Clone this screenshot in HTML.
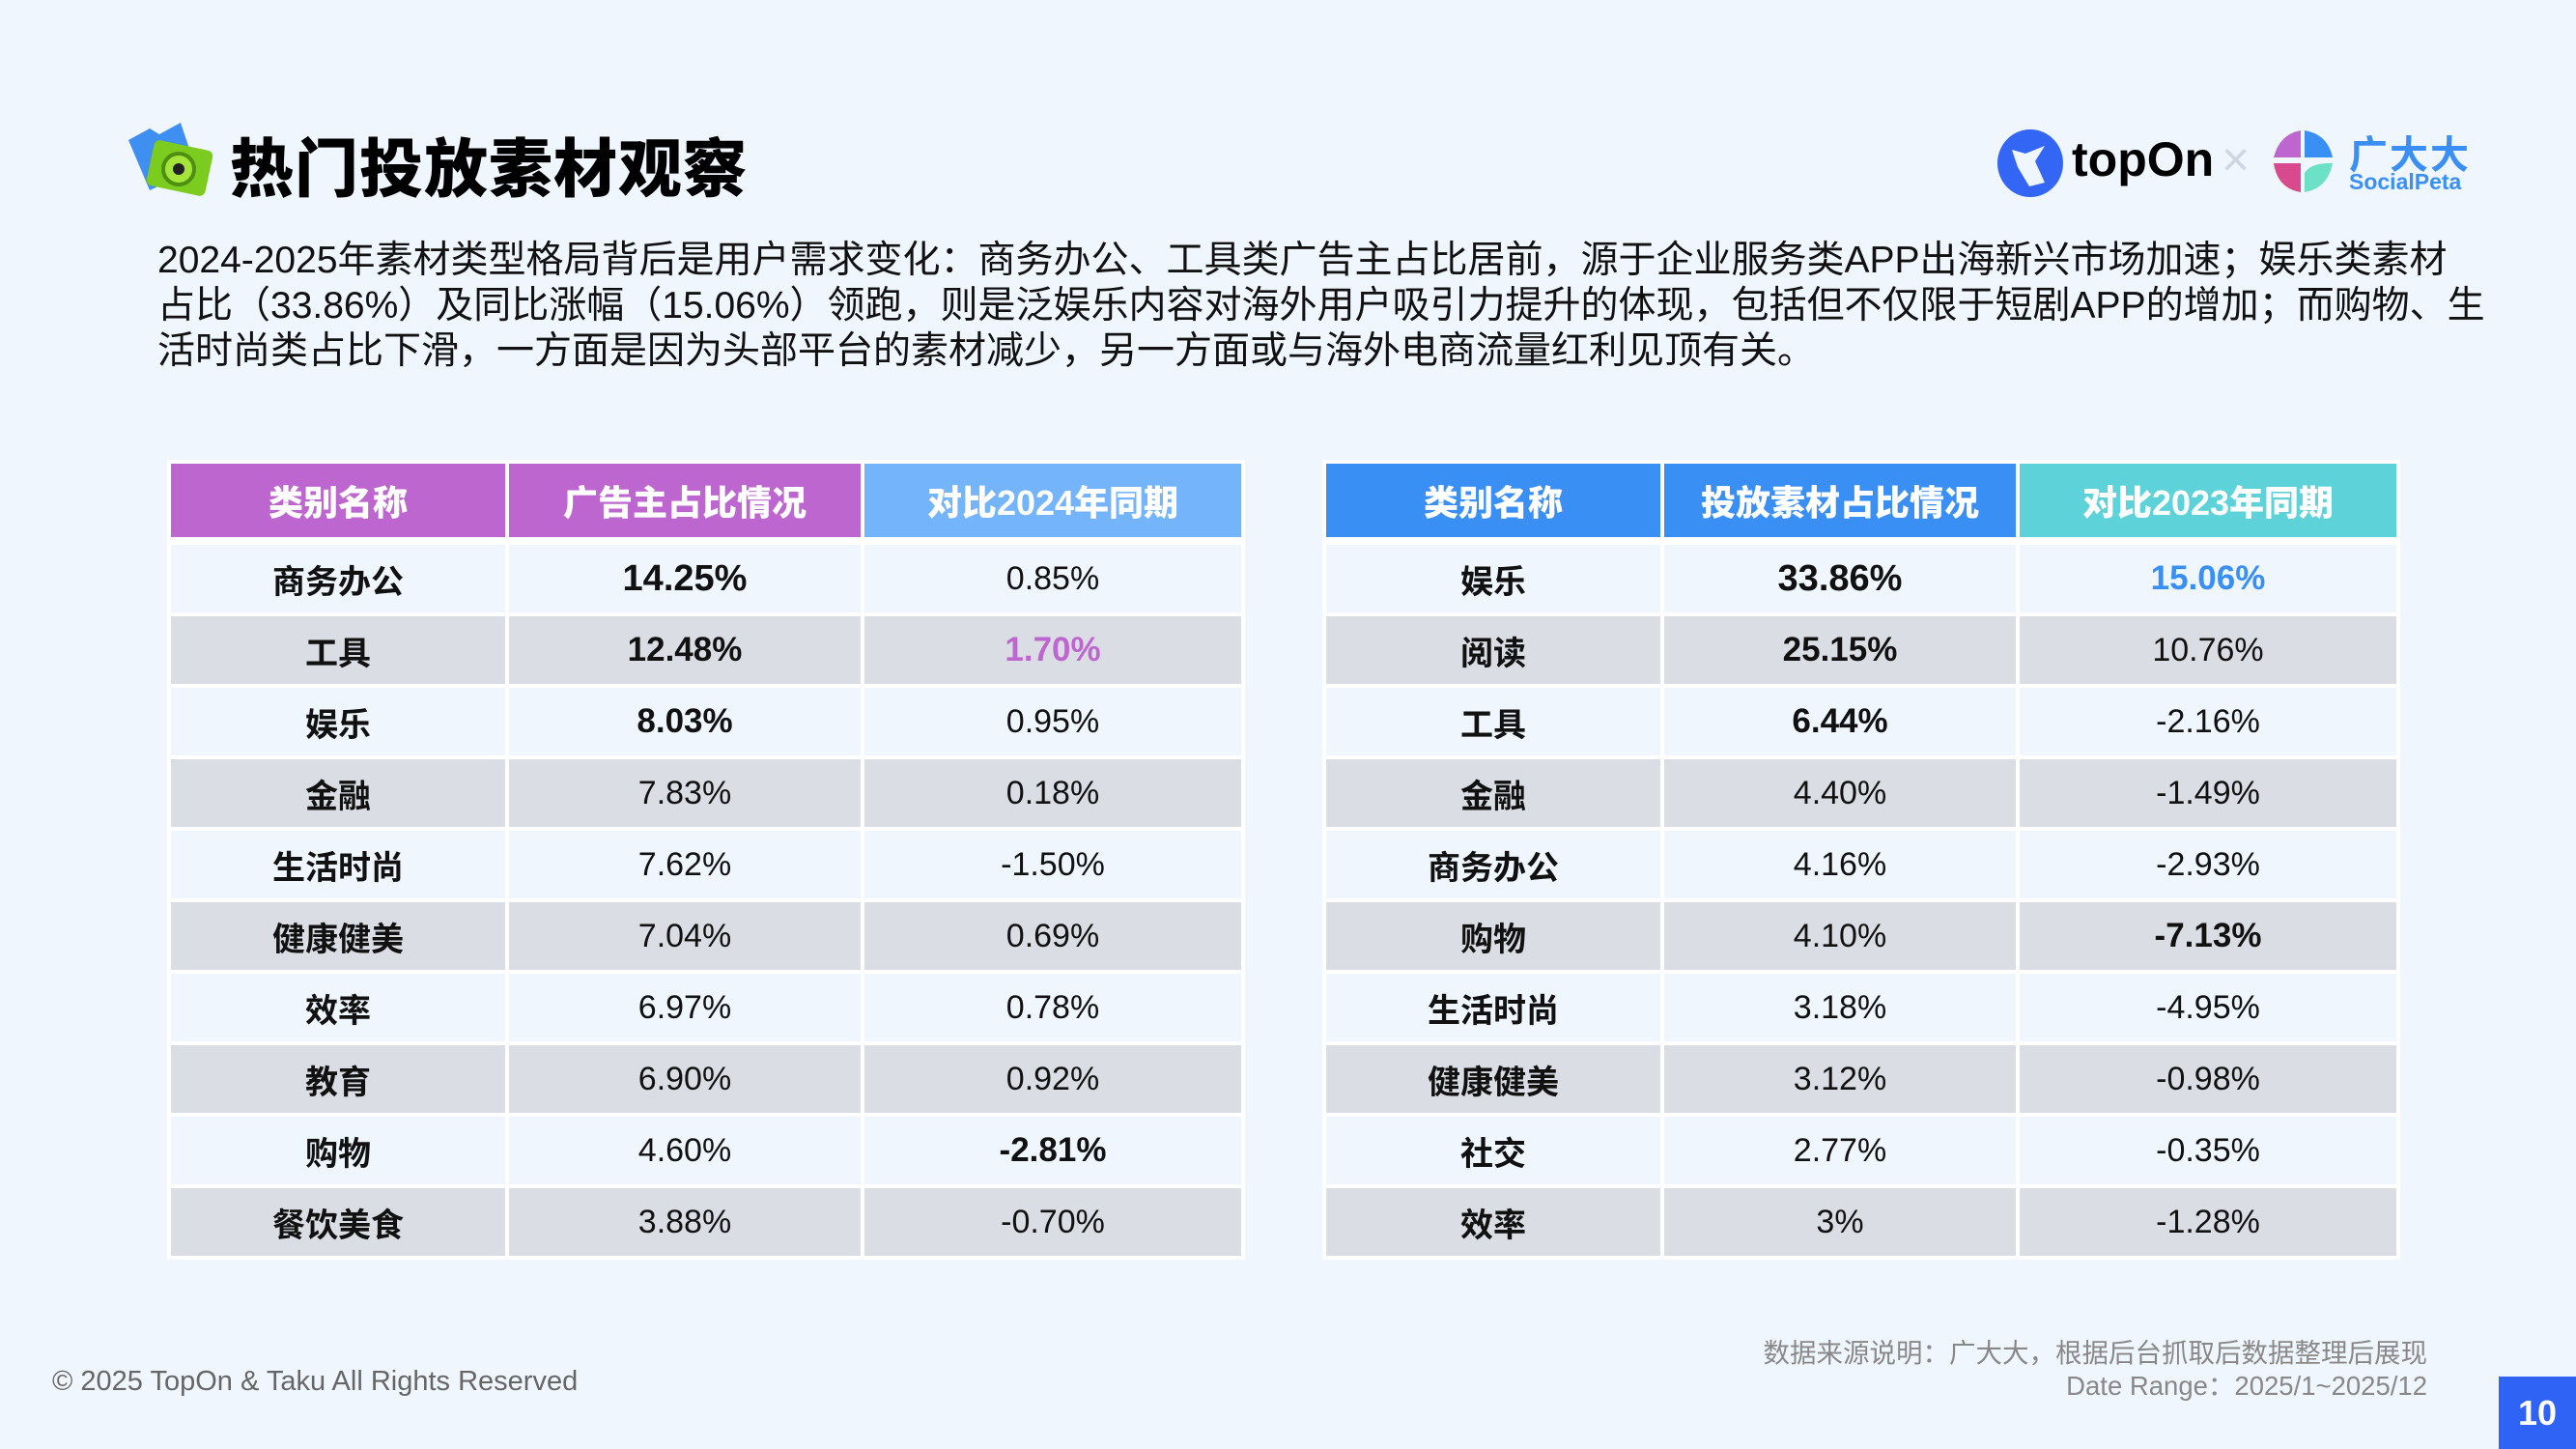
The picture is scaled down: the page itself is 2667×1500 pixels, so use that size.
<!DOCTYPE html>
<html><head><meta charset="utf-8"><style>
*{margin:0;padding:0;box-sizing:border-box}
body{width:2667px;height:1500px;background:#f0f6fe;position:relative;overflow:hidden;font-family:"Liberation Sans","Noto Sans CJK SC",sans-serif;color:#111}
.abs{position:absolute}
.title{left:238px;top:122px;font-size:66px;font-weight:900;letter-spacing:1px;color:#000}
.body{left:163px;top:246px;font-size:39px;line-height:47px;color:#111;white-space:nowrap}
table{position:absolute;border-collapse:separate;border-spacing:4px 4px;background:#fff;table-layout:fixed}
td,th{text-align:center;font-size:34px;height:70px}
th{height:76px;color:#fff;font-size:36px;font-weight:900}
td.n{font-weight:700}
tr.a td{background:#eff6fe}
tr.b td{background:#dadee4}
.bb{font-weight:900;font-size:38px}
.gap td{height:0;padding:0;background:#fff}
</style></head><body>
<svg class="abs" style="left:125px;top:125px" width="105" height="85" viewBox="0 0 105 85">
<path d="M8 20 L30 8 L40 14 L62 2 L78 50 L30 72 Z" fill="#3f8ef2"/>
<rect x="30" y="25" width="62" height="48" rx="6" fill="#7ccb1f" transform="rotate(12 61 49)"/>
<circle cx="60" cy="50" r="16" fill="#a5e53a" stroke="#4d8f12" stroke-width="4"/>
<circle cx="60" cy="50" r="6" fill="#222"/>
</svg>
<div class="abs title">热门投放素材观察</div>
<svg class="abs" style="left:2067px;top:133px" width="72" height="72" viewBox="0 0 72 72"><ellipse cx="35" cy="36" rx="34" ry="35" fill="#3466f5"/><path d="M16 22 L30 26 L50 18 L40 34 L50 56 L34 60 L22 40 Z" fill="#f0f6fe"/></svg>
<div class="abs" style="left:2145px;top:136px;font-size:50px;font-weight:700;color:#000">topOn</div>
<div class="abs" style="left:2300px;top:136px;font-size:50px;color:#cdd6e2">×</div>
<svg class="abs" style="left:2352px;top:133px" width="66" height="68" viewBox="0 0 66 68">
<path d="M30 2 Q8 6 2 30 L30 30 Z" fill="#bd66cf"/><path d="M34 2 Q58 6 63 30 L34 30 Z" fill="#3a8ff5"/>
<path d="M2 36 L30 36 L30 66 Q6 62 2 36 Z" fill="#d84a8d"/><path d="M34 66 L34 46 Q40 36 60 36 L63 36 Q58 62 34 66Z" fill="#6de0c8"/></svg>
<div class="abs" style="left:2432px;top:128px;font-size:40px;font-weight:700;color:#3a8ff5;letter-spacing:2px">广大大</div>
<div class="abs" style="left:2432px;top:175px;font-size:23px;font-weight:700;color:#3a8ff5">SocialPeta</div>
<div class="abs body">2024-2025年素材类型格局背后是用户需求变化：商务办公、工具类广告主占比居前，源于企业服务类APP出海新兴市场加速；娱乐类素材<br>占比（33.86%）及同比涨幅（15.06%）领跑，则是泛娱乐内容对海外用户吸引力提升的体现，包括但不仅限于短剧APP的增加；而购物、生<br>活时尚类占比下滑，一方面是因为头部平台的素材减少，另一方面或与海外电商流量红利见顶有关。</div>

<table style="left:173px;top:476px;width:1108px">
<colgroup><col style="width:346px"><col style="width:364px"><col style="width:390px"></colgroup>
<tr><th style="background:#bd66cf">类别名称</th><th style="background:#bd66cf">广告主占比情况</th><th style="background:#74b4fb">对比2024年同期</th></tr>
<tr class="gap"><td colspan="3" style="height:0"></td></tr>
<tr class="a"><td class="n">商务办公</td><td class="bb">14.25%</td><td>0.85%</td></tr>
<tr class="b"><td class="n">工具</td><td class="bb" style="font-size:35px">12.48%</td><td class="bb" style="color:#bd66cf;font-size:35px">1.70%</td></tr>
<tr class="a"><td class="n">娱乐</td><td class="bb" style="font-size:35px">8.03%</td><td>0.95%</td></tr>
<tr class="b"><td class="n">金融</td><td>7.83%</td><td>0.18%</td></tr>
<tr class="a"><td class="n">生活时尚</td><td>7.62%</td><td>-1.50%</td></tr>
<tr class="b"><td class="n">健康健美</td><td>7.04%</td><td>0.69%</td></tr>
<tr class="a"><td class="n">效率</td><td>6.97%</td><td>0.78%</td></tr>
<tr class="b"><td class="n">教育</td><td>6.90%</td><td>0.92%</td></tr>
<tr class="a"><td class="n">购物</td><td>4.60%</td><td class="bb" style="font-size:35px">-2.81%</td></tr>
<tr class="b"><td class="n">餐饮美食</td><td>3.88%</td><td>-0.70%</td></tr>
</table>

<table style="left:1369px;top:476px;width:1108px">
<colgroup><col style="width:346px"><col style="width:364px"><col style="width:390px"></colgroup>
<tr><th style="background:#3a8ff5">类别名称</th><th style="background:#3a8ff5">投放素材占比情况</th><th style="background:#5dd3d9">对比2023年同期</th></tr>
<tr class="gap"><td colspan="3" style="height:0"></td></tr>
<tr class="a"><td class="n">娱乐</td><td class="bb">33.86%</td><td class="bb" style="color:#3a8ff5;font-size:35px">15.06%</td></tr>
<tr class="b"><td class="n">阅读</td><td class="bb" style="font-size:35px">25.15%</td><td>10.76%</td></tr>
<tr class="a"><td class="n">工具</td><td class="bb" style="font-size:35px">6.44%</td><td>-2.16%</td></tr>
<tr class="b"><td class="n">金融</td><td>4.40%</td><td>-1.49%</td></tr>
<tr class="a"><td class="n">商务办公</td><td>4.16%</td><td>-2.93%</td></tr>
<tr class="b"><td class="n">购物</td><td>4.10%</td><td class="bb" style="font-size:35px">-7.13%</td></tr>
<tr class="a"><td class="n">生活时尚</td><td>3.18%</td><td>-4.95%</td></tr>
<tr class="b"><td class="n">健康健美</td><td>3.12%</td><td>-0.98%</td></tr>
<tr class="a"><td class="n">社交</td><td>2.77%</td><td>-0.35%</td></tr>
<tr class="b"><td class="n">效率</td><td>3%</td><td>-1.28%</td></tr>
</table>

<div class="abs" style="left:54px;top:1414px;font-size:29px;color:#666">© 2025 TopOn &amp; Taku All Rights Reserved</div>
<div class="abs" style="right:154px;top:1384px;font-size:27.5px;color:#888;text-align:right;line-height:34px">数据来源说明：广大大，根据后台抓取后数据整理后展现<br>Date Range：2025/1~2025/12</div>
<div class="abs" style="left:2587px;top:1425px;width:80px;height:75px;background:#2f63f6;color:#fff;font-size:36px;font-weight:700;text-align:center;line-height:75px">10</div>
</body></html>
